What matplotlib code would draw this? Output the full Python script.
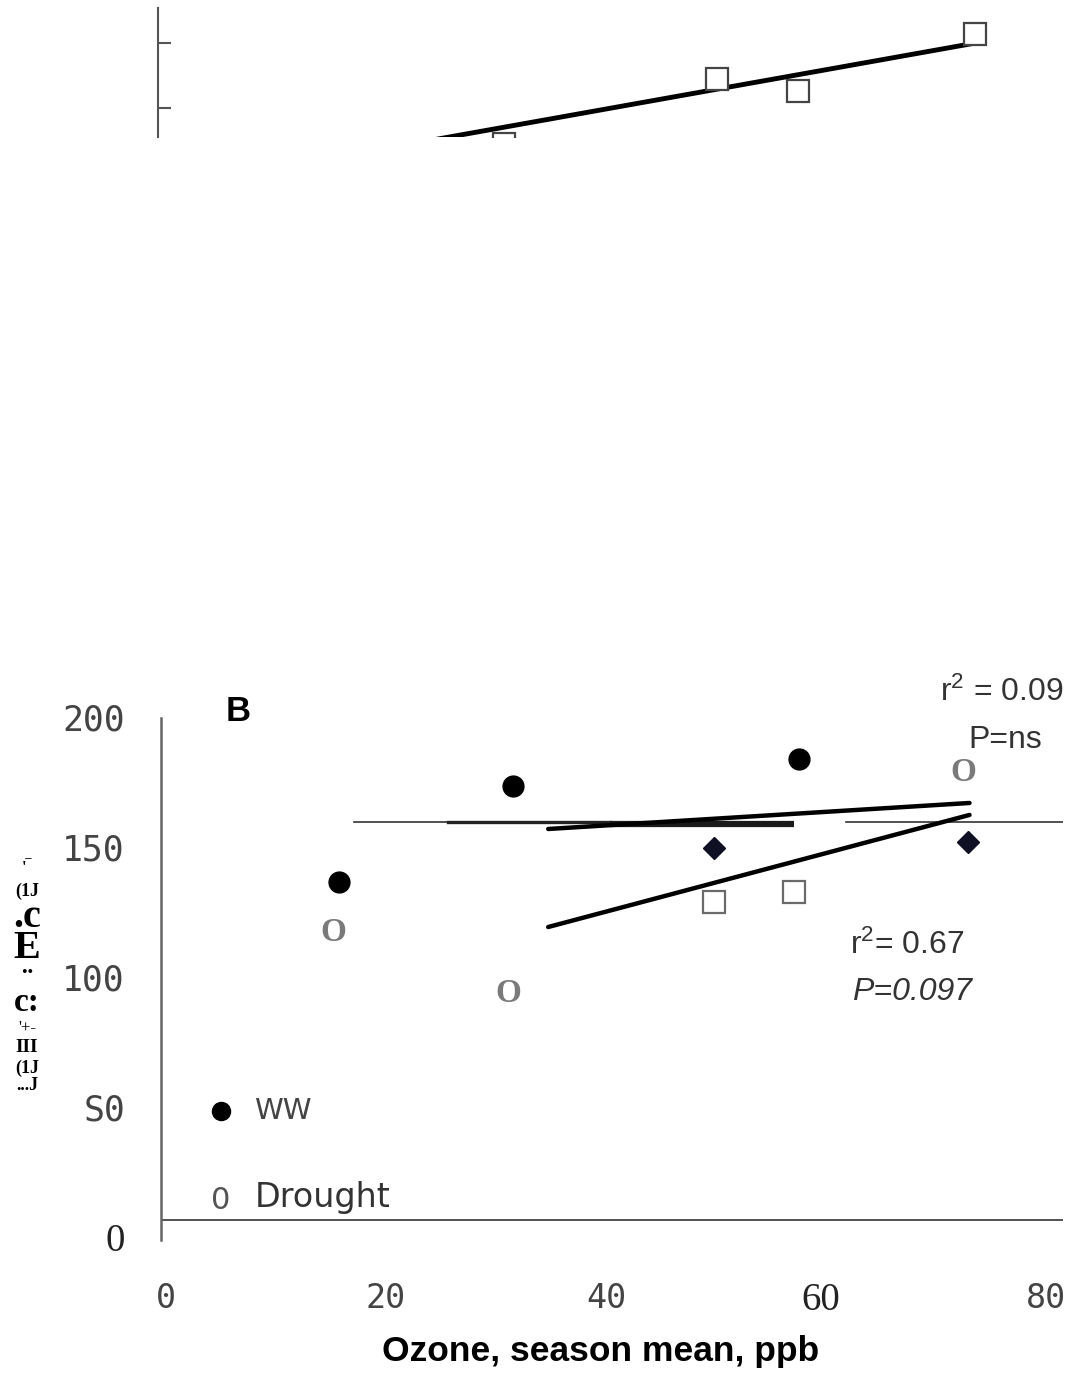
import numpy as np
import matplotlib
matplotlib.use("Agg")
import matplotlib.pyplot as plt
import matplotlib.transforms as mtransforms

plt.rcParams['mathtext.fontset'] = 'custom'
plt.rcParams['mathtext.rm'] = 'Liberation Sans'
plt.rcParams['mathtext.it'] = 'Liberation Sans:italic'

# ---- panel A (only a clipped strip is visible) ----
a_sq_x = [31.5, 50.8, 58.2, 74.3]
a_sq_y = [72.0, 122.3, 113.1, 156.9]
a_fit_x = [20.0, 73.8]
a_fit_y = [67.9, 149.2]
a_ticks = [100, 150]

# ---- panel B ----
ww_x = [16.2, 32.0, 58.0]
ww_y = [136.5, 173.5, 183.8]
drought_x = [15.7, 31.6, 72.9]
drought_y = [116.9, 93.8, 178.8]
sq_x = [50.3, 57.5]
sq_y = [128.8, 132.7]
dia_x = [50.3, 73.4]
dia_y = [149.6, 151.9]

ww_fit_x = [35.2, 73.5]
ww_fit_y = [156.9, 166.9]
dr_fit_x = [35.2, 73.5]
dr_fit_y = [119.2, 162.3]

ref_thin1_x = [17.5, 26.1]
ref_mid_x = [26.1, 40.8]
ref_thick_x = [40.8, 57.5]
ref_thin2_x = [62.3, 82.0]
ref_y = 159.6
ref_thick_y = 158.8

x_ticks = [0, 20, 40, 60, 80]
x_labels = ['0', '20', '40', '60', '80']
y_ticks = [0, 50, 100, 150, 200]
y_labels = ['0', 'S0', '100', '150', '200']

W, H = 1074, 1375
fig = plt.figure(figsize=(W / 100, H / 100), dpi=100)


def box(l, t, r, b):
    return [l / W, 1 - b / H, (r - l) / W, (b - t) / H]


# panel A strip
axa = fig.add_axes(box(158, 0, 1062, 137))
axa.set_xlim(0, 82.2)
axa.set_ylim(77.7, 183.1)
for s in ['top', 'right', 'bottom']:
    axa.spines[s].set_visible(False)
axa.spines['left'].set_bounds(77.7, 176.9)
axa.spines['left'].set_color('#555555')
axa.spines['left'].set_linewidth(1.5)
axa.set_yticks(a_ticks)
axa.set_yticklabels([])
axa.set_xticks([])
axa.tick_params(axis='y', direction='in', length=9.5, width=1.5, color='#555555')
axa.plot(a_fit_x, a_fit_y, color='black', lw=3.5)
axa.plot(a_sq_x, a_sq_y, 's', ms=16, mfc='white', mec='#444444', mew=1.6)
axa.patch.set_visible(False)

# panel B
ax = fig.add_axes(box(161, 700, 1063, 1245))
ax.set_xlim(0, 82.0)
ax.set_ylim(-3.08, 206.5)
for s in ['top', 'right', 'bottom']:
    ax.spines[s].set_visible(False)
ax.spines['left'].set_bounds(-1.2, 199.6)
ax.spines['left'].set_color('#666666')
ax.spines['left'].set_linewidth(1.8)

ax.set_xticks(x_ticks, labels=x_labels)
ax.set_yticks(y_ticks, labels=y_labels)
ax.tick_params(axis='both', length=0)
ax.tick_params(axis='x', pad=27)
ax.tick_params(axis='y', pad=26)
shift = mtransforms.ScaledTranslation(5 / 100, 0, fig.dpi_scale_trans)
for lab in ax.get_xticklabels():
    if lab.get_text() == '60':
        lab.set_fontfamily('Liberation Serif')
        lab.set_fontsize(28)
        lab.set_color('#222222')
    else:
        lab.set_fontfamily('DejaVu Sans Mono')
        lab.set_fontsize(24)
        lab.set_color('#444444')
        lab.set_transform(lab.get_transform() + shift)
for lab in ax.get_yticklabels():
    if lab.get_text() == '0':
        lab.set_fontfamily('Liberation Serif')
        lab.set_fontsize(28)
        lab.set_color('#222222')
    else:
        lab.set_fontfamily('DejaVu Sans Mono')
        lab.set_fontsize(25)
        lab.set_color('#444444')

# bottom line
ax.plot([0, 82], [6.5, 6.5], color='#333333', lw=1.2)

# reference lines
ax.plot(ref_thin1_x, [ref_y, ref_y], color='#333333', lw=1.2)
ax.plot(ref_mid_x, [ref_y, ref_y], color='#222222', lw=2.4)
ax.plot(ref_thick_x, [ref_thick_y, ref_thick_y], color='#1a1a1a', lw=4.5, solid_capstyle='butt')
ax.plot(ref_thin2_x, [ref_y, ref_y], color='#333333', lw=1.2)

# fits
ax.plot(ww_fit_x, ww_fit_y, color='black', lw=3.2, solid_capstyle='round')
ax.plot(dr_fit_x, dr_fit_y, color='black', lw=3.2, solid_capstyle='round')

# points
ax.plot(ww_x, ww_y, 'o', ms=15, color='black')
ax.plot(sq_x, sq_y, 's', ms=16, mfc='white', mec='#6a6a6a', mew=1.6)
ax.plot(dia_x, dia_y, 'D', ms=11, color='#101025')
for x, y in zip(drought_x, drought_y):
    ax.text(x, y, 'O', family='Liberation Serif', fontweight='bold', fontsize=24,
            color='#7a7a7a', ha='center', va='center')

# legend
ax.plot([5.45], [48.5], 'o', ms=13, color='black', clip_on=False)
ax.text(8.5, 48.5, 'WW', family='DejaVu Sans', fontsize=21, color='#444444',
        ha='left', va='center')
ax.text(5.4, 14.0, '0', family='DejaVu Sans', fontsize=22, color='#555555',
        ha='center', va='center')
ax.text(8.5, 15.0, 'Drought', family='DejaVu Sans', fontsize=24, color='#333333',
        ha='left', va='center')

# panel letter and stats
ax.text(7.0, 201.9, 'B', family='Liberation Sans', fontweight='bold', fontsize=25,
        ha='center', va='center', clip_on=False)
ax.text(70.8, 209.6, 'r$^{2}$ = 0.09', family='Liberation Sans', fontsize=23,
        color='#333333', ha='left', va='center', clip_on=False)
ax.text(73.4, 191.2, 'P=ns', family='Liberation Sans', fontsize=23,
        color='#333333', ha='left', va='center')
ax.text(62.6, 112.3, 'r$^{2}$= 0.67', family='Liberation Sans', fontsize=23,
        color='#333333', ha='left', va='center')
ax.text(62.8, 94.2, 'P=0.097', family='Liberation Sans', style='italic', fontsize=23,
        color='#333333', ha='left', va='center')

ax.set_xlabel('Ozone, season mean, ppb', family='Liberation Sans', fontweight='bold',
              fontsize=25.5, va='center')
ax.xaxis.set_label_coords((601 - 161) / 902, (1245 - 1352) / 545)

# garbled y label, stacked pieces
pieces = [
    ("'\u203e", 868, 12, 'bold', 1.0),
    ('(1J', 891, 13, 'bold', 1.0),
    ('.c\nE', 933, 29, 'bold', 0.8),
    ('\u00a8\nc:', 993, 24, 'bold', 0.5),
    ("'+-", 1028, 12, 'normal', 1.0),
    ('III', 1047, 14, 'bold', 1.0),
    ('(1J', 1068, 13, 'bold', 1.0),
    ('...J', 1085, 13, 'bold', 1.0),
]
for txt, py, fs, fw, ls in pieces:
    fig.text(27 / W, 1 - py / H, txt, family='Liberation Serif', fontsize=fs,
             fontweight=fw, ha='center', va='center', linespacing=ls,
             multialignment='center')

fig.savefig('out.png', dpi=100)
